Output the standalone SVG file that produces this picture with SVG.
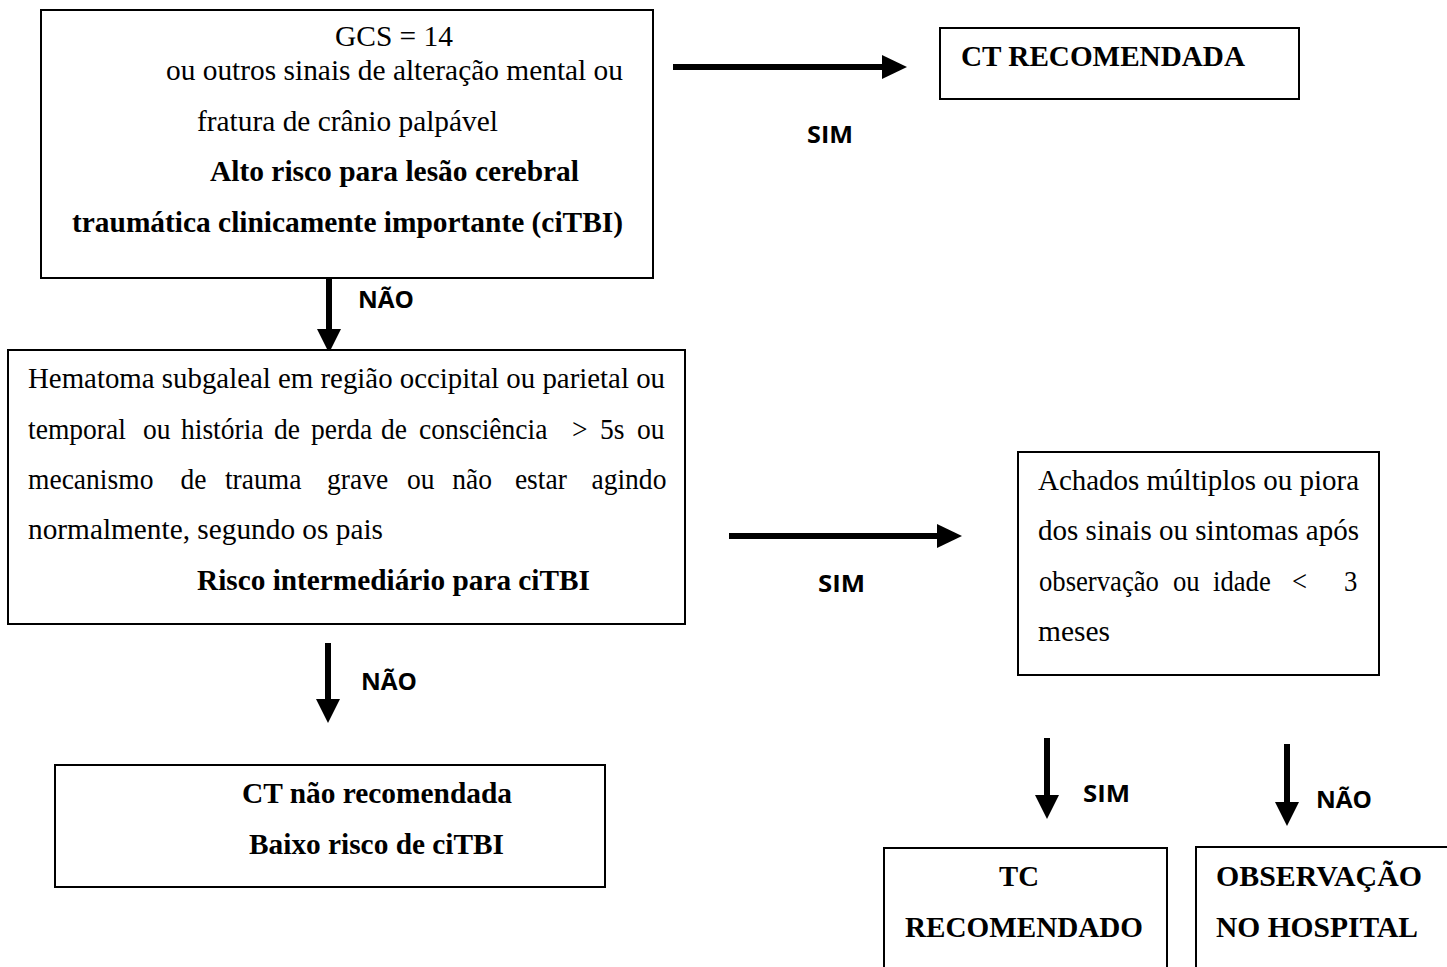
<svg xmlns="http://www.w3.org/2000/svg" width="1447" height="967" viewBox="0 0 1447 967">
<style>
.box{fill:#fff;stroke:#000;stroke-width:2}
.t{font-family:"Liberation Serif","Times New Roman",serif;font-size:29px;fill:#000}
.b{font-weight:bold}
.lbl{font-family:"Open Sans","DejaVu Sans",sans-serif;font-weight:bold;font-size:23px;fill:#000}
.arr{stroke:#000;stroke-width:6;fill:none}
.head{fill:#000}
</style>
<rect width="1447" height="967" fill="#fff"/>
<g id="connectors">
<line class="arr" x1="673" y1="67" x2="884" y2="67"/><polygon class="head" points="882,55 907,67 882,79"/>
<text class="lbl" x="807" y="143" textLength="46" lengthAdjust="spacingAndGlyphs">SIM</text>
<line class="arr" x1="329" y1="272" x2="329" y2="332"/><polygon class="head" points="317,329 341,329 329,353"/>
<text class="lbl" x="358" y="308" textLength="56" lengthAdjust="spacingAndGlyphs">NÃO</text>
<line class="arr" x1="729" y1="536" x2="940" y2="536"/><polygon class="head" points="937,524 962,536 937,548"/>
<text class="lbl" x="818" y="592" textLength="47" lengthAdjust="spacingAndGlyphs">SIM</text>
<line class="arr" x1="328" y1="643" x2="328" y2="702"/><polygon class="head" points="316,699 340,699 328,723"/>
<text class="lbl" x="361" y="690" textLength="56" lengthAdjust="spacingAndGlyphs">NÃO</text>
<line class="arr" x1="1047" y1="738" x2="1047" y2="798"/><polygon class="head" points="1035,795 1059,795 1047,819"/>
<text class="lbl" x="1083" y="802" textLength="47" lengthAdjust="spacingAndGlyphs">SIM</text>
<line class="arr" x1="1287" y1="744" x2="1287" y2="805"/><polygon class="head" points="1275,802 1299,802 1287,826"/>
<text class="lbl" x="1316" y="808" textLength="56" lengthAdjust="spacingAndGlyphs">NÃO</text>
</g>
<g id="node-gcs">
<rect class="box" x="41" y="10" width="612" height="268"/>
<text class="t" x="335" y="46" textLength="118" lengthAdjust="spacingAndGlyphs">GCS = 14</text>
<text class="t" x="166" y="80" textLength="457" lengthAdjust="spacingAndGlyphs">ou outros sinais de alteração mental ou</text>
<text class="t" x="197" y="131" textLength="301" lengthAdjust="spacingAndGlyphs">fratura de crânio palpável</text>
<text class="t b" x="210" y="181" textLength="369" lengthAdjust="spacingAndGlyphs">Alto risco para lesão cerebral</text>
<text class="t b" x="72" y="232" textLength="551" lengthAdjust="spacingAndGlyphs">traumática clinicamente importante (ciTBI)</text>
</g>
<g id="node-ct-recomendada">
<rect class="box" x="940" y="28" width="359" height="71"/>
<text class="t b" x="961" y="66" textLength="284" lengthAdjust="spacingAndGlyphs">CT RECOMENDADA</text>
</g>
<g id="node-hematoma">
<rect class="box" x="8" y="350" width="677" height="274"/>
<text class="t" x="28" y="388" textLength="637" lengthAdjust="spacingAndGlyphs">Hematoma subgaleal em região occipital ou parietal ou</text>
<text class="t" y="439" transform="scale(0.95 1)"><tspan x="29.5">temporal</tspan><tspan x="150.5">ou</tspan><tspan x="190.5">história</tspan><tspan x="288.4">de</tspan><tspan x="327.4">perda</tspan><tspan x="401">de</tspan><tspan x="441">consciência</tspan><tspan x="602">&gt;</tspan><tspan x="631.6">5s</tspan><tspan x="670.5">ou</tspan></text>
<text class="t" y="489" transform="scale(0.95 1)"><tspan x="29.5">mecanismo</tspan><tspan x="190">de</tspan><tspan x="236.8">trauma</tspan><tspan x="344.2">grave</tspan><tspan x="428.4">ou</tspan><tspan x="476">não</tspan><tspan x="542">estar</tspan><tspan x="622.6">agindo</tspan></text>
<text class="t" x="28" y="539" textLength="355" lengthAdjust="spacingAndGlyphs">normalmente, segundo os pais</text>
<text class="t b" x="197" y="590" textLength="393" lengthAdjust="spacingAndGlyphs">Risco intermediário para ciTBI</text>
</g>
<g id="node-achados">
<rect class="box" x="1018" y="452" width="361" height="223"/>
<text class="t" x="1038" y="490" textLength="321" lengthAdjust="spacingAndGlyphs">Achados múltiplos ou piora</text>
<text class="t" x="1038" y="540" textLength="321" lengthAdjust="spacingAndGlyphs">dos sinais ou sintomas após</text>
<text class="t" y="591" transform="scale(0.92 1)"><tspan x="1129.3">observação</tspan><tspan x="1275">ou</tspan><tspan x="1318.5">idade</tspan><tspan x="1404.3">&lt;</tspan><tspan x="1460.9">3</tspan></text>
<text class="t" x="1038" y="641" textLength="72" lengthAdjust="spacingAndGlyphs">meses</text>
</g>
<g id="node-ct-nao">
<rect class="box" x="55" y="765" width="550" height="122"/>
<text class="t b" x="242" y="803" textLength="270" lengthAdjust="spacingAndGlyphs">CT não recomendada</text>
<text class="t b" x="249" y="854" textLength="255" lengthAdjust="spacingAndGlyphs">Baixo risco de ciTBI</text>
</g>
<g id="node-tc-recomendado">
<rect class="box" x="884" y="848" width="283" height="140"/>
<text class="t b" x="999" y="886" textLength="40" lengthAdjust="spacingAndGlyphs">TC</text>
<text class="t b" x="905" y="937" textLength="238" lengthAdjust="spacingAndGlyphs">RECOMENDADO</text>
</g>
<g id="node-observacao">
<rect class="box" x="1196" y="847" width="260" height="140"/>
<text class="t b" x="1216" y="886" textLength="206" lengthAdjust="spacingAndGlyphs">OBSERVAÇÃO</text>
<text class="t b" x="1216" y="937" textLength="202" lengthAdjust="spacingAndGlyphs">NO HOSPITAL</text>
</g>
</svg>
